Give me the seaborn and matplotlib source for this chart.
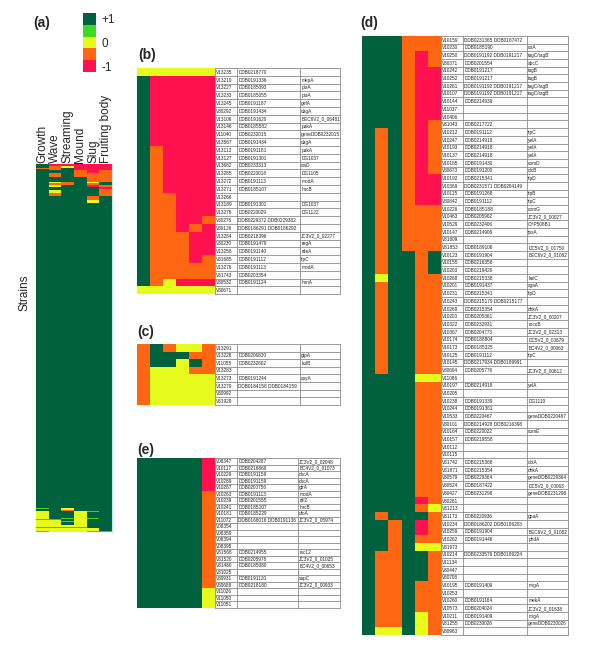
import numpy as np
import matplotlib
matplotlib.use("Agg")
import matplotlib.pyplot as plt
import seaborn as sns
from matplotlib.colors import ListedColormap

sns.set_style("white")
plt.rcParams['font.family'] = ['Liberation Sans', 'DejaVu Sans']

# ---- data -------------------------------------------------------------
# colour codes: G=+1 (dark green), L=light green, Y=0, O=orange, R=-1
stages = ["Growth", "Wave", "Streaming", "Mound", "Slug", "Fruiting body"]
scale_labels = ["+1", "0", "-1"]

# (a) overview: row patterns and how many strains share each
a_patterns = ["GRRRRR", "GOYRRR", "OOGRRR", "GOGRRR", "GGGORO", "GOGOOO", "GGGGOO",
              "GYOGYG", "GOOGOG", "GYGGRO", "GGGGGR", "GGGGGO", "GYGGGO", "GOGGGO",
              "GGGGOG", "GGGGYG", "GGGGGG", "LGYGGG", "GGYGGG", "GGOGGG", "YGGYLG",
              "YGGYGG", "YGLYLG", "OOGYGG", "YYGYGG", "YYLYGG", "YYGYGG", "YYYYGG",
              "OOOOGG", "YYYYYG", "LYYYLO"]
a_repeats = [2, 2, 1, 1, 3, 4, 5, 1, 2, 2, 2, 1, 3, 3, 4, 3, 304, 1, 1, 1, 1,
             6, 1, 1, 1, 1, 3, 2, 1, 3, 1]

# (b)
b_colors = ["YYYYYY"] + ["GRRRRR"] * 9 + ["GORRRR"] * 6 + ["GOORRR"] * 3 + \
    ["GOORRO", "GOOROR", "GOOORR", "GOOORR", "GOOORR", "GOOORO", "GOOOOO", "GOOOOO",
     "GOYRRR", "YYYYYY"]
b_ids = ["V13235", "V13210", "V13227", "V13233", "V13245", "V30292", "V13106", "V13146",
         "V11040", "V13567", "V13113", "V13127", "V13682", "V13285", "V13272", "V13271",
         "V13266", "V13189", "V13276", "V30276", "V30126", "V13284", "V30230", "V13258",
         "V31685", "V13276", "V31743", "V30532", "V30671"]
b_ddb = ["DDB0218770", "DDB0191336", "DDB0185093", "DDB0185055", "DDB0191187", "DDB0191434",
         "DDB0191620", "DDB0185582", "DDB0232015", "DDB0191434", "DDB0191181", "DDB0191301",
         "DDB0233313", "DDB0220018", "DDB0191113", "DDB0185107", "", "DDB0191301",
         "DDB0220029", "DDB0229372 DDB0229382", "DDB0186291 DDB0186292", "DDB0218396",
         "DDB0191479", "DDB0191140", "DDB0191112", "DDB0191113", "DDB0203354", "DDB0191124", ""]
b_genes = ["", "mkpA", "piaA", "piaA", "gefA", "dagA", "BEC6V2_0_06481", "pakA",
           "geneDDB0232015", "dagA", "pakA", "DG1037", "stsD", "DG1105", "modA", "lmcB", "",
           "DG1037", "DG1122", "", "", "JC3V2_0_02277", "regA", "rdeA", "tipC", "modA", "",
           "lmnA", ""]

# (c)
c_colors = ["OGOYYO", "OGGGOO", "OGGYGO", "OYYYOO", "OYYYYY", "OYYYYY", "OYYYYY", "OYYYYY"]
c_ids = ["V13291", "V13226", "V11055", "V13283", "V13273", "V13279", "V30992", "V31929"]
c_ddb = ["", "DDB0206830", "DDB0232602", "", "DDB0191244", "DDB0184158 DDB0184159", "", ""]
c_genes = ["", "gtpA", "kulB", "", "spyA", "", "", ""]

# (d)
d_colors = (["GGGOOO"] * 2 + ["GGGORO"] * 2 + ["GGGORR"] * 7 + ["GGGORO"] + ["GOGORO"] * 6 +
            ["GOGORR"] * 4 + ["GOGOOO"] * 6 + ["GOGGOG"] * 3 + ["GYGGOO"] + ["GOGGOO"] * 12 +
            ["GGGGYY"] + ["GGGGOO"] * 15 + ["GGGGRO", "GGGGOY", "GOGGGO", "GGOGRO", "GGOGRO",
            "GGOGOO", "GGOGYY"] + ["GOOGGO"] * 4 + ["GOOGOO"] * 4 + ["GOOGYO", "GOOGYO", "GYYGYO"])
d_ids = ["V10159", "V10230", "V10250", "V30371", "V10242", "V10252", "V10261", "V10107",
         "V10144", "V11037", "V10406", "V31043", "V10212", "V10247", "V10193", "V10137",
         "V10165", "V30673", "V10192", "V10369", "V10115", "V30842", "V10226", "V10463",
         "V10529", "V10147", "V31609", "V31853", "V10123", "V10155", "V10203", "V10268",
         "V10201", "V10231", "V10243", "V10269", "V10200", "V10322", "V10367", "V10174",
         "V10173", "V10125", "V10145", "V30604", "V11086", "V10197", "V10205", "V10238",
         "V10244", "V10533", "V30101", "V10164", "V10157", "V10112", "V10115", "V31742",
         "V31871", "V30579", "V30524", "V30427", "V30261", "V31213", "V31173", "V10234",
         "V10259", "V10262", "V31973", "V10214", "V11134", "V30447", "V30708", "V10195",
         "V10253", "V10260", "V10573", "V10211", "V31255", "V30963"]
d_ddb = ["DDB0231365 DDB0187472", "DDB0185190", "DDB0191192 DDB0191217", "DDB0201554",
         "DDB0191217", "DDB0191217", "DDB0191192 DDB0191217", "DDB0191192 DDB0191217",
         "DDB0214939", "", "", "DDB0217722", "DDB0191112", "DDB0214918", "DDB0214918",
         "DDB0214918", "DDB0191430", "DDB0191200", "DDB0215341", "DDB0231571 DDB0204149",
         "DDB0191268", "DDB0191112", "DDB0185188", "DDB0205902", "DDB0232406", "DDB0214906",
         "", "DDB0189106", "DDB0191904", "DDB0216358", "DDB0219426", "DDB0215338",
         "DDB0191437", "DDB0215341", "DDB0215179 DDB0215177", "DDB0215354", "DDB0205361",
         "DDB0232931", "DDB0204773", "DDB0188804", "DDB0185325", "DDB0191112",
         "DDB0217934 DDB0189991", "DDB0205776", "", "DDB0214918", "", "DDB0191339",
         "DDB0191361", "DDB0220467", "DDB0214928 DDB0216398", "DDB0220022", "DDB0219558",
         "", "", "DDB0215368", "DDB0215354", "DDB0229364", "DDB0187422", "DDB0231298", "",
         "", "DDB0220936", "DDB0186202 DDB0186203", "DDB0191904", "DDB0191446", "",
         "DDB0233576 DDB0189224", "", "", "", "DDB0191409", "", "DDB0191164", "DDB0204024",
         "DDB0191409", "DDB0230026", ""]
d_genes = ["", "ctrA", "tagC/tagB", "abcC", "tagB", "tagB", "tagC/tagB", "tagC/tagB", "", "",
           "", "", "tipC", "yelA", "yelA", "yelA", "comD", "dicB", "tipD", "", "tipB", "tipC",
           "comG", "JC3V2_0_00027", "CYP508B1", "tpsA", "", "DC5V2_0_01750", "BEC6V2_0_01082",
           "", "", "kelC", "sgaA", "tipD", "", "dhkA", "JC3V2_0_00207", "rocoB",
           "JC3V2_0_02313", "DC5V2_0_00679", "BC4V2_0_00063", "tipC", "", "JC3V2_0_00612", "",
           "yelA", "", "DG1110", "", "geneDDB0220467", "", "comE", "", "", "", "dctA", "dhkA",
           "geneDDB0229364", "DC5V2_0_00063", "geneDDB0231298", "", "", "gpaA", "",
           "BEC6V2_0_01082", "phdA", "", "", "", "", "", "migA", "", "mekA", "JC3V2_0_01638",
           "migA", "geneDDB0230026", ""]

# (e)
e_colors = ["GGGGGR"] * 5 + ["GGGGGO"] * 15 + ["GGGGGY"] * 3
e_ids = ["V08347", "V10117", "V10229", "V10289", "V10287", "V10263", "V10239", "V10241",
         "V10181", "V11072", "V08354", "V08359", "V08394", "V08395", "V31568", "V31520",
         "V31480", "V31025", "V30931", "V30688", "V11026", "V11050", "V11051"]
e_ddb = ["DDB0204287", "DDB0216868", "DDB0191159", "DDB0191159", "DDB0200756", "DDB0191113",
         "DDB0201555", "DDB0185107", "DDB0185229", "DDB0168016 DDB0191136", "", "", "", "",
         "DDB0214955", "DDB0205978", "DDB0185080", "", "DDB0191120", "DDB0218180", "", "", ""]
e_genes = ["JC3V2_0_02048", "BC4V2_0_01073", "dscA", "dscA", "gtrA", "modA", "rdl2", "lmcB",
           "ufoA", "JC3V2_0_05974", "", "", "", "", "rsc12", "JC3V2_0_01025", "BC4V2_0_00653",
           "", "sapC", "JC3V2_0_00933", "", "", ""]

# ---- styling / layout ------------------------------------------------------
palette = ["#00613f", "#3fd920", "#e6fa1c", "#ff6611", "#ff1150"]
code = {"G": 0, "L": 1, "Y": 2, "O": 3, "R": 4}
cmap = ListedColormap(palette)
W, H = 600, 652
TXT = 3.4

fig = plt.figure(figsize=(6, 6.52), dpi=100)


def px_axes(x, y, w, h):
    return fig.add_axes([x / W, 1 - (y + h) / H, w / W, h / H])


def to_matrix(rows):
    return np.array([[code[ch] for ch in r] for r in rows])


def draw_heat(ax, rows):
    sns.heatmap(to_matrix(rows), cmap=cmap, vmin=-0.5, vmax=4.5, cbar=False,
                xticklabels=False, yticklabels=False, ax=ax)


def draw_table(x_edges, top, row_h, cols):
    n = len(cols[0])
    ax = px_axes(x_edges[0], top, x_edges[-1] - x_edges[0], row_h * n)
    ax.set_xlim(x_edges[0], x_edges[-1])
    ax.set_ylim(n, 0)
    ax.axis("off")
    for i in range(n + 1):
        ax.plot([x_edges[0], x_edges[-1]], [i, i], color="#8a8a8a", lw=0.6, clip_on=False)
    for xe in x_edges:
        ax.plot([xe, xe], [0, n], color="#8a8a8a", lw=0.6, clip_on=False)
    for j, col in enumerate(cols):
        for i, s in enumerate(col):
            if s:
                ax.text(x_edges[j] + 1.2, i + 0.55, s, fontsize=TXT, color="#222222",
                        va="center", ha="left")


def panel(rows, cols, x0, top, row_h, x_edges):
    ax = px_axes(x0, top, x_edges[0] - x0, row_h * len(rows))
    draw_heat(ax, rows)
    draw_table(x_edges, top, row_h, cols)


# (a) overview heatmap
a_rows = [p for p, r in zip(a_patterns, a_repeats) for _ in range(r)]
ax_a = px_axes(36, 164, 76, 368)
draw_heat(ax_a, a_rows)
ax_a.set_xticks(np.arange(len(stages)) + 0.5)
ax_a.set_xticklabels(stages, rotation=90, fontsize=8.5)
ax_a.xaxis.tick_top()
ax_a.tick_params(axis="x", length=0, pad=1)
for s in ["right"]:
    ax_a.spines[s].set_visible(True)
    ax_a.spines[s].set_color("#bfe8dc")
fig.text(24 / W, 1 - 293 / H, "Strains", rotation=90, ha="center", va="center", fontsize=8.5)

# colour key
ax_k = px_axes(83, 13, 13, 59)
draw_heat(ax_k, list("GLYOR"))
ax_k.set_yticks([0.5, 2.5, 4.5])
ax_k.set_yticklabels(scale_labels, fontsize=8.5)
ax_k.yaxis.tick_right()
ax_k.tick_params(axis="y", length=0, pad=4, labelright=True, labelleft=False)
for lbl in ax_k.get_yticklabels():
    lbl.set_rotation(0)

# zoomed panels
panel(b_colors, [b_ids, b_ddb, b_genes], 137, 68, 7.8, [215, 237, 300, 340])
panel(c_colors, [c_ids, c_ddb, c_genes], 137, 344, 7.6, [215, 237, 300, 340])
panel(e_colors, [e_ids, e_ddb, e_genes], 137, 458, 6.5, [215, 237, 298, 340])
panel(d_colors, [d_ids, d_ddb, d_genes], 362, 36, 7.68, [441, 463, 527, 568])

for lab, x, y in [("(a)", 42, 23), ("(b)", 147, 55), ("(c)", 146, 332),
                  ("(d)", 369, 23), ("(e)", 146, 450)]:
    fig.text(x / W, 1 - y / H, lab, fontsize=10, fontweight="bold", ha="center", va="center")

fig.savefig("out.png", dpi=100)
